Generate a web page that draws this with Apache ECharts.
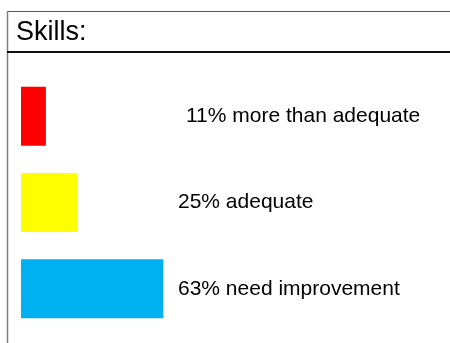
<!DOCTYPE html>
<html>
<head>
<meta charset="utf-8">
<script src="https://cdn.jsdelivr.net/npm/echarts@6/dist/echarts.min.js"></script>
<style>
  html, body { margin: 0; padding: 0; background: #ffffff; }
  #chart { width: 450px; height: 343px; }
</style>
</head>
<body>
<div id="chart"></div>
<script>
// Skill ratings, share of respondents (%)
const categories = ['more than adequate', 'adequate', 'need improvement'];
const shares = [11, 25, 63];
const barColors = ['#ff0000', '#ffff00', '#00b0f0'];
const titleText = 'Skills:';

const FONT = '"Liberation Sans", Arial, sans-serif';

// per-row nudges for the right-hand captions
const captionPadding = [[0, 0, 4, 8], [0, 0, 0, 0], [0, 0, 8, 0]];

const chart = echarts.init(document.getElementById('chart'), null, { renderer: 'canvas' });

chart.setOption({
  backgroundColor: '#ffffff',
  animation: false,
  title: {
    text: titleText,
    left: 11,
    top: 14,
    textStyle: { fontFamily: FONT, fontSize: 27, fontWeight: 'normal', color: '#000000' }
  },
  graphic: [
    // frame: top edge, left edge, rule under the title
    { type: 'line', shape: { x1: 7, y1: 11.5, x2: 450, y2: 11.5 }, style: { stroke: '#555555', lineWidth: 1 } },
    { type: 'line', shape: { x1: 7.5, y1: 11, x2: 7.5, y2: 343 }, style: { stroke: '#808080', lineWidth: 1.5 } },
    { type: 'line', shape: { x1: 7, y1: 52, x2: 450, y2: 52 }, style: { stroke: '#111111', lineWidth: 2 } }
  ],
  grid: { left: 21, right: 203, top: 73, bottom: 11, containLabel: false },
  xAxis: {
    type: 'value', min: 0, max: 100, show: false
  },
  yAxis: {
    type: 'category',
    inverse: true,
    data: categories.map((c, i) => ({
      value: c,
      textStyle: { padding: captionPadding[i] }
    })),
    axisLine: { show: false },
    axisTick: { show: false },
    splitLine: { show: false },
    axisLabel: {
      inside: true,
      margin: 157,
      fontFamily: FONT,
      fontSize: 21,
      color: '#000000',
      formatter: (value, idx) => shares[idx] + '% ' + value
    }
  },
  series: [{
    type: 'bar',
    barWidth: 59,
    data: shares.map((v, i) => ({ value: v, itemStyle: { color: barColors[i] } })),
    label: { show: false }
  }]
});
</script>
</body>
</html>
